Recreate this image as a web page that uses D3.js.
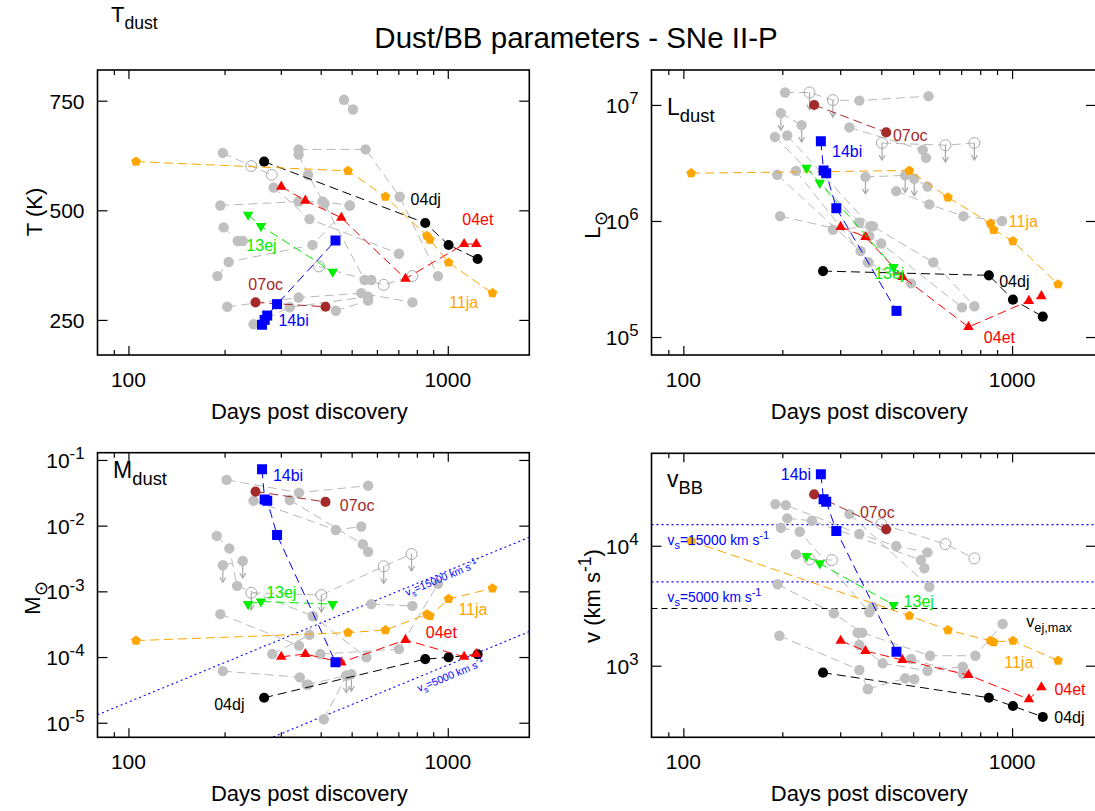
<!DOCTYPE html>
<html>
<head>
<meta charset="utf-8">
<script src="https://cdn.jsdelivr.net/npm/d3@7"></script>
<style>
  body { margin: 0; background: #fff; }
  svg { font-family: "Liberation Sans", Arial, Helvetica, sans-serif; }
</style>
</head>
<body>
<svg id="chart" width="1095" height="811"></svg>
<script>
// ---------------- data ----------------
// Epochs (days post discovery) and fitted dust / blackbody parameters
const sn04dj = { days: [266, 850, 1006, 1240], T: [611, 471, 421, 389], L: [3.7e5, 3.4e5, 2.1e5, 1.5e5], M: [2.4e-5, 9.3e-5, 9.9e-5, 1.1e-4], v: [875, 541, 461, 374] };
const sn04et = { days: [301, 358, 464, 737, 1125, 1228], T: [554, 522, 483, 344, 423, 423], L: [8.9e5, 7.3e5, 3.3e5, 1.22e5, 2.05e5, 2.25e5], M: [1.01e-4, 1.11e-4, 8.3e-5, 1.82e-4, 1.01e-4, 1.11e-4], v: [1615, 1326, 1116, 836, 525, 661] };
const sn07oc = { days: [250, 414], T: [290, 280], L: [1.0e7, 5.8e6], M: [0.033, 0.023], v: [26800, 13700] };
const sn11ja = { days: [105.6, 487, 638, 860, 879, 1006, 1380], T: [611, 590, 531, 442, 433, 381, 311], L: [2.58e6, 2.72e6, 1.6e6, 9.5e5, 8.4e5, 6.7e5, 2.85e5], M: [1.78e-4, 2.35e-4, 2.58e-4, 4.48e-4, 4.22e-4, 7.66e-4, 1.11e-3], v: [10940, 2610, 1984, 1615, 1576, 1615, 1101] };
const sn13ej = { days: [237, 260, 436], T: [490, 464, 360], L: [2.87e6, 2.13e6, 4.0e5], M: [6.4e-4, 7.0e-4, 6.4e-4], v: [8200, 7130, 3205] };
const sn14bi = { days: [262, 267, 272, 292, 445], T: [239, 250, 260, 286, 431], L: [4.86e6, 2.72e6, 2.58e6, 1.29e6, 1.68e5], M: [0.072, 0.025, 0.024, 0.0072, 8.3e-5], v: [39400, 24400, 23300, 13300, 1310] };

const snNames = ["04dj", "04et", "07oc", "11ja", "13ej", "14bi"];
const snData = { "04dj": sn04dj, "04et": sn04et, "07oc": sn07oc, "11ja": sn11ja, "13ej": sn13ej, "14bi": sn14bi };

// Name tags: [day, value] where each name is written
const tagT = { "04dj": [853, 524], "04et": [1242, 480], "07oc": [269, 330], "11ja": [1122, 290], "13ej": [261, 421], "14bi": [329, 250] };
const tagL = { "04dj": [1016, 3.03e5], "04et": [915, 1.0e5], "07oc": [490, 5.45e6], "11ja": [1082, 9.9e5], "13ej": [423, 3.52e5], "14bi": [315, 3.99e6] };
const tagM = { "04dj": [207, 1.87e-5], "04et": [955, 2.41e-4], "07oc": [520, 0.02], "11ja": [1199, 5.35e-4], "13ej": [301, 9.55e-4], "14bi": [316, 0.0591] };
const tagV = { "04dj": [1494, 374], "04et": [1500, 640], "07oc": [389, 18840], "11ja": [1048, 1067], "13ej": [520, 3415], "14bi": [220, 39580] };

// Comparison sample (grey). Each track: [day, value, kind]; kind: f filled, o open, a = limit arrow
const grayT = [
  [[473, 752], [505, 730]],
  [[197.5, 631], [242.5, 601, "o"], [281, 581, "o"]],
  [[341, 639], [553, 639], [707, 531], [932, 350]],
  [[341, 627], [365, 581], [411, 515], [549, 341], [576, 341]],
  [[194, 511], [341, 520], [405, 520], [493, 511]],
  [[285, 552], [369, 480], [703, 401]],
  [[198.6, 461], [220, 430], [228, 430]],
  [[190, 350], [206, 382], [377, 421], [493, 511]],
  [[395, 372, "o"], [630, 330, "o"], [775, 350, "o"]],
  [[204, 280], [341, 301], [536, 311], [775, 290]],
  [[246.5, 240], [320, 279], [563, 303]],
  [[446, 271], [563, 294]]
];
const grayL = [
  [[204, 1.28e7], [242, 1.28e7, "oa"], [285, 1.10e7, "oa"], [343, 1.09e7], [557, 1.19e7]],
  [[198, 8.5e6, "fa"], [229, 6.7e6, "fa"]],
  [[320, 6.4e6], [535, 4.1e6], [547, 3.5e6]],
  [[402, 4.7e6, "oa"], [627, 4.5e6, "oa"], [768, 4.7e6, "oa"]],
  [[190, 5.3e6], [343, 9.7e5]],
  [[207, 5.45e6], [371, 9.0e5]],
  [[193, 2.5e6], [346, 5.5e5]],
  [[220, 2.7e6], [366, 4.4e5]],
  [[197, 1.1e6], [368, 7.4e5], [400, 6.4e5], [704, 1.8e5]],
  [[285, 8.4e5], [377, 9.0e5], [576, 4.4e5], [768, 1.84e5]],
  [[444, 1.81e6], [560, 1.39e6], [711, 1.10e6], [932, 1.0e6]],
  [[358, 2.4e6, "fa"], [473, 2.47e6, "fa"], [504, 2.31e6, "fa"], [553, 1.98e6]],
  [[364, 4.4e5], [493, 2.9e5]]
];
const grayM = [
  [[203, 0.0497], [342, 0.0318], [563, 0.0406]],
  [[246.5, 0.024], [446, 0.0086], [536, 0.0097]],
  [[320, 0.0246], [542, 0.0052], [563, 0.0040]],
  [[189, 0.0070], [207, 0.0045], [219, 0.00121], [378, 4.2e-4]],
  [[197.5, 0.0025, "fa"], [228, 0.0029, "fa"]],
  [[242.5, 9.5e-4, "oa"], [402, 8.8e-4, "oa"], [630, 2.4e-3, "oa"], [770, 3.7e-3, "oa"]],
  [[194, 4.5e-4], [342, 1.49e-4]],
  [[197.5, 6.1e-5], [344, 4.9e-5], [365, 3.8e-5]],
  [[282, 1.11e-4], [369, 2.17e-4], [378, 4.2e-4], [556, 9.9e-5]],
  [[362, 3.8e-5], [481, 5.2e-5, "fa"], [499, 5.5e-5, "fa"]],
  [[576, 6.4e-4], [775, 6.0e-4]],
  [[399, 1.11e-4], [703, 1.32e-4], [932, 1.3e-3]],
  [[409, 1.13e-5], [481, 5.2e-5]]
];
const grayV = [
  [[190.5, 22260], [205, 21830], [343, 12520], [444, 9940], [553, 8810]],
  [[207, 16920], [246, 16160], [528, 7600], [541, 6490]],
  [[198, 14130], [226, 13090], [368, 2790], [377, 3100]],
  [[320, 18370], [560, 4550]],
  [[220, 8480], [242, 7700, "o"], [283, 7600, "o"]],
  [[400, 15170, "o"], [627, 10330, "o"], [768, 7850, "o"]],
  [[193.5, 4770], [287, 2730], [350, 1885], [563, 1211], [773, 1211], [936, 2230]],
  [[196, 1778], [343, 921], [364, 640]],
  [[339, 1885], [343, 1488], [404, 1047], [553, 908], [708, 981]],
  [[364, 640], [473, 785], [504, 771]],
  [[493, 1137], [708, 853]]
];

// Reference lines
const shockVelocities = ["15000", "5000"];
const shockMassEnds = [[[80, 1.32e-5], [1800, 6.66e-3]], [[80, 4.82e-7], [1800, 2.44e-4]]];
const shockTagDays = [944, 993];
const vShockLevels = [15000, 5000];
const vEjMax = 3000;

// Axes
const dayDomain = [80, 1800];
const majorDays = [100, 1000];
const minorDays = [90, 200, 300, 400, 500, 600, 700, 800, 900];

// ---------------- styling ----------------
const symbolPentagon = {
  draw(ctx, size) {
    const r = Math.sqrt(size / 2.3776);
    for (let i = 0; i < 5; i++) {
      const a = -Math.PI / 2 + i * 2 * Math.PI / 5;
      const px = r * Math.cos(a), py = r * Math.sin(a);
      if (i) ctx.lineTo(px, py); else ctx.moveTo(px, py);
    }
    ctx.closePath();
  }
};
const symbolTriDown = {
  draw(ctx, size) {
    const a = Math.sqrt(size / (Math.sqrt(3) / 4));
    const h = a * Math.sqrt(3) / 2;
    ctx.moveTo(-a / 2, -h / 3);
    ctx.lineTo(a / 2, -h / 3);
    ctx.lineTo(0, 2 * h / 3);
    ctx.closePath();
  }
};
const symbolTriUp = {
  draw(ctx, size) {
    const a = Math.sqrt(size / (Math.sqrt(3) / 4));
    const h = a * Math.sqrt(3) / 2;
    ctx.moveTo(-a / 2, h / 3);
    ctx.lineTo(a / 2, h / 3);
    ctx.lineTo(0, -2 * h / 3);
    ctx.closePath();
  }
};
const snStyle = {
  "04dj": { color: "#000000", sym: d3.symbolCircle, size: 80 },
  "04et": { color: "#ff0000", sym: symbolTriUp, size: 48 },
  "07oc": { color: "#a52a2a", sym: d3.symbolCircle, size: 80 },
  "11ja": { color: "#ffa500", sym: symbolPentagon, size: 62 },
  "13ej": { color: "#00ee00", sym: symbolTriDown, size: 48 },
  "14bi": { color: "#0000ff", sym: d3.symbolSquare, size: 100 }
};
const GREY = "#c0c0c0";
const GREY_LINE = "#b8b8b8";

const svg = d3.select("#chart");

// rich text with sub/superscripts
function rich(sel, parts, size) {
  let shift = 0;
  parts.forEach(p => {
    const target = p.sub ? size * 0.3 : p.sup ? -size * 0.42 : 0;
    sel.append("tspan")
      .attr("dy", target - shift)
      .attr("font-size", (p.sub || p.sup) ? size * 0.8 : size)
      .text(p.t);
    shift = target;
  });
  return sel;
}

const panels = [
  { q: "T", gray: grayT, tags: tagT, left: 97.5, top: 70, right: 529.3, bottom: 355, log: false, domain: [170, 820], ticks: [250, 500, 750] },
  { q: "L", gray: grayL, tags: tagL, left: 651.5, top: 70, right: 1096, bottom: 355, log: true, domain: [7e4, 2e7], ticks: [5, 6, 7] },
  { q: "M", gray: grayM, tags: tagM, left: 97.5, top: 452.7, right: 529.3, bottom: 737.3, log: true, domain: [6e-6, 0.129], ticks: [-5, -4, -3, -2, -1] },
  { q: "v", gray: grayV, tags: tagV, left: 651.5, top: 453.3, right: 1096, bottom: 737.3, log: true, domain: [253, 5.9e4], ticks: [3, 4] }
];

panels.forEach(p => {
  const x = d3.scaleLog().domain(dayDomain).range([p.left, p.right]);
  const y = (p.log ? d3.scaleLog() : d3.scaleLinear()).domain(p.domain).range([p.bottom, p.top]);
  p.x = x; p.y = y;
  const g = svg.append("g");
  const clipId = "clip-" + p.q;
  svg.append("clipPath").attr("id", clipId).append("rect")
    .attr("x", p.left).attr("y", p.top).attr("width", p.right - p.left).attr("height", p.bottom - p.top);
  const plot = g.append("g").attr("clip-path", `url(#${clipId})`);
  p.plot = plot;

  // ---- axes (inward ticks on all sides) ----
  const tickStyle = s => { s.select(".domain").remove(); s.selectAll("line").attr("stroke", "#000").attr("stroke-width", 1.2); s.selectAll("text").remove(); };
  const yVals = p.log ? p.ticks.map(e => Math.pow(10, e)) : p.ticks;
  g.append("g").attr("transform", `translate(0,${p.bottom})`).call(d3.axisBottom(x).tickValues(majorDays).tickSize(-9)).call(tickStyle);
  g.append("g").attr("transform", `translate(0,${p.bottom})`).call(d3.axisBottom(x).tickValues(minorDays).tickSize(-5)).call(tickStyle);
  g.append("g").attr("transform", `translate(0,${p.top})`).call(d3.axisTop(x).tickValues(majorDays).tickSize(-9)).call(tickStyle);
  g.append("g").attr("transform", `translate(0,${p.top})`).call(d3.axisTop(x).tickValues(minorDays).tickSize(-5)).call(tickStyle);
  g.append("g").attr("transform", `translate(${p.left},0)`).call(d3.axisLeft(y).tickValues(yVals).tickSize(-10)).call(tickStyle);
  g.append("g").attr("transform", `translate(${p.right},0)`).call(d3.axisRight(y).tickValues(yVals).tickSize(-10)).call(tickStyle);
  g.append("rect").attr("x", p.left).attr("y", p.top).attr("width", p.right - p.left).attr("height", p.bottom - p.top)
    .attr("fill", "none").attr("stroke", "#000").attr("stroke-width", 1.6);

  majorDays.forEach(d => {
    g.append("text").attr("x", x(d)).attr("y", p.bottom + 32).attr("text-anchor", "middle")
      .attr("font-size", 21).text(d);
  });
  g.append("text").attr("x", (p.left + Math.min(p.right, 1095)) / 2 - 4).attr("y", p.bottom + 64).attr("text-anchor", "middle")
    .attr("font-size", 22).text("Days post discovery");

  p.ticks.forEach((t, i) => {
    const val = yVals[i];
    const txt = g.append("text").attr("x", p.left - 13).attr("y", y(val) + 8).attr("text-anchor", "end").attr("font-size", 21);
    if (p.log) rich(txt, [{ t: "10" }, { t: String(t), sup: true }], 21);
    else txt.text(t);
  });
});

const [pT, pL, pM, pV] = panels;

// ---- reference lines ----
// dust mass limits for given shock velocities
shockMassEnds.forEach((ends, i) => {
  const line = d3.line().x(d => pM.x(d[0])).y(d => pM.y(d[1]));
  pM.plot.append("path").attr("d", line(ends)).attr("fill", "none").attr("stroke", "#0000ff")
    .attr("stroke-width", 1.1).attr("stroke-dasharray", "2,3");
  const [a, b] = ends;
  const f = (Math.log(shockTagDays[i]) - Math.log(a[0])) / (Math.log(b[0]) - Math.log(a[0]));
  const mTag = Math.exp(Math.log(a[1]) + f * (Math.log(b[1]) - Math.log(a[1])));
  const ang = Math.atan2(pM.y(b[1]) - pM.y(a[1]), pM.x(b[0]) - pM.x(a[0])) * 180 / Math.PI;
  const t = svg.append("text").attr("text-anchor", "middle").attr("fill", "#0000ff")
    .attr("transform", `translate(${pM.x(shockTagDays[i])},${pM.y(mTag)}) rotate(${ang})`)
    .attr("y", i === 0 ? 8 : 14);
  rich(t, [{ t: "v" }, { t: "s", sub: true }, { t: "=" + shockVelocities[i] + " km s" }, { t: "-1", sup: true }], 10.5);
});

// velocity levels
vShockLevels.forEach((v, i) => {
  pV.plot.append("line").attr("x1", pV.left).attr("x2", pV.right).attr("y1", pV.y(v)).attr("y2", pV.y(v))
    .attr("stroke", "#0000ff").attr("stroke-width", 1.1).attr("stroke-dasharray", "2,3");
  const t = svg.append("text").attr("x", pV.x(89.5)).attr("y", pV.y(v) + 20).attr("fill", "#0000ff");
  rich(t, [{ t: "v" }, { t: "s", sub: true }, { t: "=" + shockVelocities[i] + " km s" }, { t: "-1", sup: true }], 13.8);
});
pV.plot.append("line").attr("x1", pV.left).attr("x2", pV.right).attr("y1", pV.y(vEjMax)).attr("y2", pV.y(vEjMax))
  .attr("stroke", "#000").attr("stroke-width", 1.1).attr("stroke-dasharray", "6,4");
rich(svg.append("text").attr("x", pV.x(1105)).attr("y", pV.y(vEjMax) + 19), [{ t: "v" }, { t: "ej,max", sub: true }], 16);

// ---- grey comparison sample ----
panels.forEach(p => {
  const line = d3.line().x(d => p.x(d[0])).y(d => p.y(d[1]));
  p.gray.forEach(track => {
    p.plot.append("path").attr("d", line(track)).attr("fill", "none").attr("stroke", GREY_LINE)
      .attr("stroke-width", 1).attr("stroke-dasharray", "9,5");
  });
  p.gray.forEach(track => {
    track.forEach(d => {
      const kind = d[2] || "f";
      const cx = p.x(d[0]), cy = p.y(d[1]);
      if (kind.includes("a")) {
        p.plot.append("line").attr("x1", cx).attr("x2", cx).attr("y1", cy).attr("y2", cy + 17)
          .attr("stroke", "#a8a8a8").attr("stroke-width", 1.2);
        p.plot.append("path").attr("d", `M${cx - 3},${cy + 12}L${cx},${cy + 17}L${cx + 3},${cy + 12}`)
          .attr("fill", "none").attr("stroke", "#a8a8a8").attr("stroke-width", 1.2);
      }
      if (kind.includes("o")) {
        p.plot.append("circle").attr("cx", cx).attr("cy", cy).attr("r", 5.5)
          .attr("fill", "none").attr("stroke", "#aaaaaa").attr("stroke-width", 1);
      } else {
        p.plot.append("circle").attr("cx", cx).attr("cy", cy).attr("r", 5.2).attr("fill", GREY);
      }
    });
  });
});

// ---- named supernovae ----
panels.forEach(p => {
  const line = d3.line().x(d => p.x(d[0])).y(d => p.y(d[1]));
  snNames.forEach(name => {
    const s = snData[name], st = snStyle[name];
    const pts = s.days.map((d, i) => [d, s[p.q][i]]);
    p.plot.append("path").attr("d", line(pts)).attr("fill", "none").attr("stroke", st.color)
      .attr("stroke-width", 1).attr("stroke-dasharray", "9,5");
    pts.forEach(d => {
      p.plot.append("path").attr("d", d3.symbol().type(st.sym).size(st.size)())
        .attr("transform", `translate(${p.x(d[0])},${p.y(d[1])})`).attr("fill", st.color);
    });
    const tg = p.tags[name];
    svg.append("text").attr("x", p.x(tg[0])).attr("y", p.y(tg[1])).attr("dy", "0.35em")
      .attr("text-anchor", "middle").attr("font-size", 16).attr("fill", st.color).text(name);
  });
});

// ---- titles and labels ----
svg.append("text").attr("x", 576).attr("y", 48).attr("text-anchor", "middle").attr("font-size", 29.5)
  .text("Dust/BB parameters - SNe II-P");

rich(svg.append("text").attr("x", 111).attr("y", 22), [{ t: "T" }, { t: "dust", sub: true }], 22);
rich(svg.append("text").attr("x", 667).attr("y", 115), [{ t: "L" }, { t: "dust", sub: true }], 23);
rich(svg.append("text").attr("x", 113).attr("y", 478), [{ t: "M" }, { t: "dust", sub: true }], 23);
rich(svg.append("text").attr("x", 667).attr("y", 487), [{ t: "v" }, { t: "BB", sub: true }], 23);

// axis titles, set to the left of the tick labels
svg.append("text").attr("transform", "translate(42,212) rotate(-90)").attr("text-anchor", "middle")
  .attr("font-size", 22).text("T (K)");
rich(svg.append("text").attr("transform", "translate(600,225) rotate(-90)").attr("text-anchor", "middle"),
  [{ t: "L" }, { t: "\u2299", sub: true }], 22);
rich(svg.append("text").attr("transform", "translate(40,598) rotate(-90)").attr("text-anchor", "middle"),
  [{ t: "M" }, { t: "\u2299", sub: true }], 22);
rich(svg.append("text").attr("transform", "translate(600,596) rotate(-90)").attr("text-anchor", "middle"),
  [{ t: "v (km s" }, { t: "-1", sup: true }, { t: ")" }], 22);
</script>
</body>
</html>
